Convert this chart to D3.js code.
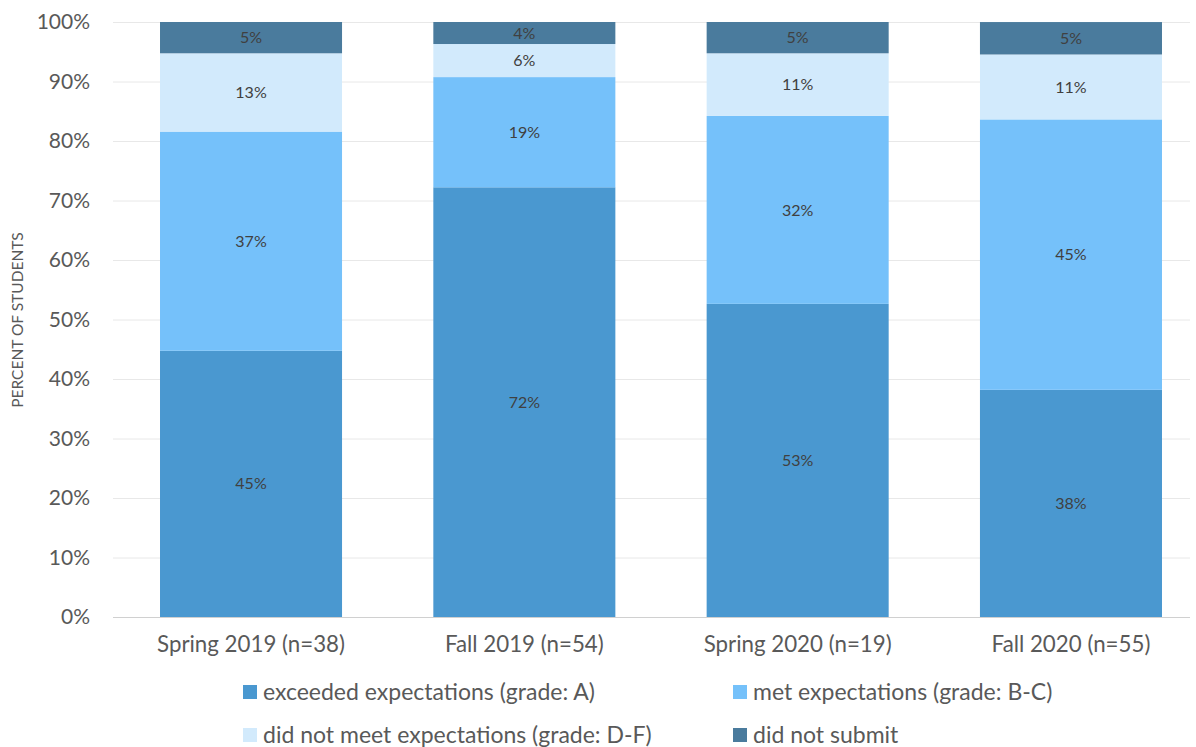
<!DOCTYPE html>
<html><head><meta charset="utf-8">
<script src="https://cdn.jsdelivr.net/npm/d3@7"></script>
<style>
body{margin:0;background:#fff;}
svg{display:block;font-family:Lato,"Open Sans",sans-serif;}
</style></head>
<body><svg id="c" width="1196" height="747"></svg>
<script>
const categories = ["Spring 2019 (n=38)", "Fall 2019 (n=54)", "Spring 2020 (n=19)", "Fall 2020 (n=55)"];
const seriesNames = ["exceeded expectations (grade: A)", "met expectations (grade: B-C)", "did not meet expectations (grade: D-F)", "did not submit"];
const exceeded = [44.74, 72.22, 52.63, 38.18];
const met = [36.84, 18.52, 31.58, 45.45];
const notMet = [13.16, 5.56, 10.53, 10.91];
const notSubmit = [5.26, 3.70, 5.26, 5.45];
const yTicks = [0, 10, 20, 30, 40, 50, 60, 70, 80, 90, 100];
const colors = ["#4a98d0", "#75c1fa", "#d2eafc", "#4a7b9d"];

const svg = d3.select("#c");
const FONT = "Lato, Open Sans, sans-serif";
const x = d3.scaleBand().domain(categories).range([113, 1209]).paddingInner(0.334).paddingOuter(0.172);
const y = d3.scaleLinear().domain([0, 100]).range([617, 22]);
const gx0 = 113, gx1 = 1190;

const seriesData = [exceeded, met, notMet, notSubmit];
const rows = categories.map((c, i) => {
  const o = {cat: c};
  seriesNames.forEach((s, j) => o[s] = seriesData[j][i]);
  return o;
});
const stack = d3.stack().keys(seriesNames)(rows);

// gridlines
svg.append("g").selectAll("line").data(yTicks.filter(t => t > 0)).join("line")
  .attr("x1", gx0).attr("x2", gx1)
  .attr("y1", d => y(d) + 0.5).attr("y2", d => y(d) + 0.5)
  .attr("stroke", "#e8e8e8").attr("stroke-width", 1);

// bars
const g = svg.append("g");
stack.forEach((s, j) => {
  g.append("g").selectAll("rect").data(s).join("rect")
    .attr("x", d => x(d.data.cat))
    .attr("width", x.bandwidth())
    .attr("y", d => y(d[1]))
    .attr("height", d => y(d[0]) - y(d[1]))
    .attr("fill", colors[j]);
});
stack.forEach((s, j) => {
  g.append("g").selectAll("text").data(s).join("text")
    .attr("x", d => x(d.data.cat) + x.bandwidth() / 2)
    .attr("y", d => (y(d[0]) + y(d[1])) / 2)
    .attr("dy", "0.35em")
    .attr("text-anchor", "middle")
    .attr("font-size", 16)
    .attr("fill", "#404040")
    .text(d => Math.round(d[1] - d[0]) + "%");
});

// baseline
svg.append("line").attr("x1", gx0).attr("x2", gx1)
  .attr("y1", y(0) + 0.5).attr("y2", y(0) + 0.5)
  .attr("stroke", "#d0d0d0").attr("stroke-width", 1);

// y axis labels
const yAxis = d3.axisLeft(y).tickValues(yTicks).tickFormat(d => d + "%").tickSize(0).tickPadding(0);
const ya = svg.append("g").attr("transform", "translate(90,0)").call(yAxis);
ya.select(".domain").remove();
ya.selectAll("text").attr("font-size", 21).attr("fill", "#595959").attr("font-family", FONT);

// x axis labels
const xAxis = d3.axisBottom(x).tickSize(0).tickPadding(0);
const xa = svg.append("g").attr("transform", "translate(0,636)").call(xAxis);
xa.select(".domain").remove();
xa.selectAll("text").attr("font-size", 22.3).attr("fill", "#595959").attr("font-family", FONT);

// y title
svg.append("text").attr("transform", "translate(23,320) rotate(-90)")
  .attr("text-anchor", "middle").attr("font-size", 15.5).attr("fill", "#595959")
  .text("PERCENT OF STUDENTS");

// legend
const legPos = [[243, 692], [733, 692], [243, 735], [733, 735]];
const leg = svg.append("g").selectAll("g").data(seriesNames).join("g")
  .attr("transform", (d, i) => `translate(${legPos[i][0]},${legPos[i][1]})`);
leg.append("rect").attr("x", 0).attr("y", -7).attr("width", 14).attr("height", 14)
  .attr("fill", (d, i) => colors[i]);
leg.append("text").attr("x", 20).attr("y", 0).attr("dy", "0.35em")
  .attr("font-size", 23).attr("fill", "#595959").text(d => d);
</script></body></html>
